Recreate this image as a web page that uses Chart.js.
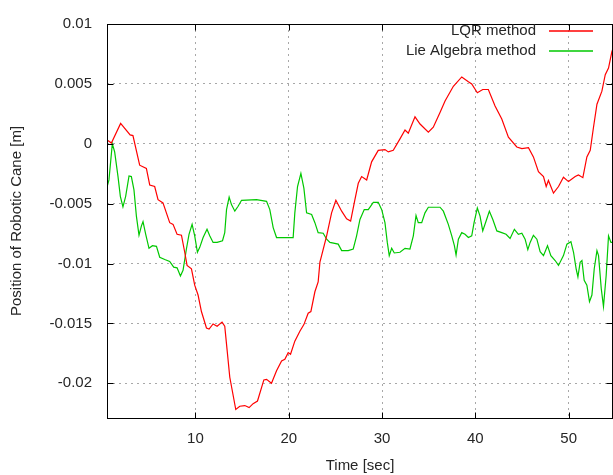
<!DOCTYPE html>
<html>
<head>
<meta charset="utf-8">
<script src="https://cdn.jsdelivr.net/npm/chart.js@4"></script>
<style>
  html, body { margin: 0; padding: 0; background: #fff; }
  #wrap { width: 613px; height: 475px; position: relative; }
</style>
</head>
<body>
<div id="wrap"><canvas id="caneChart" width="613" height="475"></canvas></div>
<script>
const SERIES_LABELS = ["LQR method", "Lie Algebra method"];
const SERIES_COLORS = ["#ff0000", "#00c800"];
const X_TICKS = [10, 20, 30, 40, 50];
const Y_TICKS = [-0.02, -0.015, -0.01, -0.005, 0, 0.005, 0.01];

// LQR method: time [sec] / position [m]
const lqrTime = [0.62, 0.99, 1.98, 3.0, 3.3, 4.02, 4.74, 5.1, 5.63, 5.99, 6.52, 7.24, 7.6, 8.03, 8.5, 8.85, 9.1, 9.57, 9.92, 10.28,
  10.64, 11.18, 11.46, 11.89, 12.32, 12.85, 13.14, 13.68, 14.32, 14.75, 15.29, 15.75, 16.18, 16.65, 17.33, 17.62, 18.15, 18.69, 19.23, 19.58,
  19.94, 20.19, 20.65, 21.19, 21.62, 22.08, 22.37, 22.8, 23.15, 23.34, 23.52, 24.06, 24.59, 25.05, 25.67, 26.2, 26.63, 27.09, 27.45, 27.81,
  28.35, 28.88, 29.59, 30.31, 30.67, 31.2, 31.92, 32.46, 32.81, 33.53, 34.07, 34.96, 35.49, 36.21, 36.75, 37.64, 38.54, 39.25, 39.61, 40.21,
  40.79, 41.39, 42.11, 42.83, 43.54, 44.44, 44.98, 45.69, 46.22, 46.76, 47.3, 47.59, 47.83, 48.09, 48.37, 48.91, 49.44, 49.98, 50.7, 51.05,
  51.52, 51.95, 52.31, 52.66, 53.03, 53.56, 53.92, 54.27, 54.63, 54.77];
const lqrPos = [0.00027, 0.00006, 0.0017, 0.00074, 0.00068, -0.00179, -0.00206, -0.00344, -0.00357, -0.00467, -0.00494, -0.00659, -0.00673, -0.00756, -0.00764, -0.00906, -0.01016, -0.01044, -0.01181, -0.01263,
  -0.01401, -0.01538, -0.01547, -0.01505, -0.01524, -0.01489, -0.01524, -0.0195, -0.02219, -0.02192, -0.02186, -0.02203, -0.0217, -0.02148, -0.01972, -0.01967, -0.02, -0.01895, -0.01813, -0.01799,
  -0.01744, -0.01758, -0.01648, -0.01566, -0.0151, -0.01415, -0.01401, -0.01236, -0.01154, -0.00989, -0.00934, -0.00769, -0.00577, -0.00472, -0.00563, -0.00626, -0.00645, -0.00467, -0.0033, -0.00274,
  -0.00302, -0.00151, -0.00055, -0.00049, -0.00068, -0.00055, 0.00041, 0.00115, 0.00088, 0.00225, 0.00165, 0.00096, 0.00138, 0.00261, 0.00357, 0.0048, 0.00558, 0.00517, 0.005, 0.00426,
  0.00453, 0.00453, 0.00316, 0.00206, 0.00055, -0.00027, -0.00041, -0.00033, -0.0011, -0.00233, -0.00274, -0.00357, -0.00307, -0.00357, -0.00412, -0.00357, -0.0028, -0.00316, -0.00274, -0.00261,
  -0.00283, -0.0011, -0.00055, 0.00138, 0.0033, 0.00439, 0.00577, 0.00632, 0.00769, 0.008];

// Lie Algebra method: time [sec] / position [m]
const lieTime = [0.52, 0.54, 0.73, 1.09, 1.34, 1.7, 1.95, 2.23, 2.52, 2.88, 3.13, 3.41, 3.67, 3.95, 4.21, 4.38, 4.67, 5.02, 5.39, 5.82,
  6.17, 6.71, 7.24, 7.67, 8.03, 8.39, 8.67, 9.03, 9.31, 9.64, 9.92, 10.21, 10.46, 10.82, 11.24, 11.53, 11.89, 12.32, 12.9, 13.14,
  13.33, 13.61, 13.86, 14.22, 14.57, 14.94, 16.54, 17.62, 17.97, 18.33, 18.69, 20.47, 20.65, 20.94, 21.3, 21.62, 21.91, 22.45, 22.8, 23.15,
  23.69, 24.06, 24.41, 25.3, 25.67, 26.37, 26.91, 27.27, 27.63, 28.09, 28.52, 29.06, 29.59, 29.96, 30.31, 30.56, 30.77, 31.03, 31.31, 31.92,
  32.46, 32.99, 33.35, 33.64, 33.88, 34.25, 34.6, 34.96, 36.21, 36.57, 37.1, 37.47, 37.75, 37.93, 38.18, 38.54, 38.89, 39.25, 39.61, 39.86,
  40.21, 40.5, 40.79, 41.15, 41.5, 41.87, 42.3, 42.83, 43.29, 43.72, 44.18, 44.61, 44.98, 45.33, 45.62, 45.87, 46.22, 46.59, 46.94, 47.3,
  47.73, 48.09, 48.55, 48.91, 49.44, 49.81, 50.24, 50.52, 50.8, 50.99, 51.23, 51.42, 51.66, 51.95, 52.23, 52.49, 52.74, 53.03, 53.2, 53.49,
  53.73, 54.02, 54.27, 54.53, 54.74];
const liePos = [0.00192, -0.00357, -0.00302, 0, -0.00068, -0.00274, -0.00439, -0.00527, -0.00439, -0.00269, -0.00274, -0.00385, -0.00604, -0.00764, -0.00686, -0.00651, -0.00756, -0.00873, -0.00851, -0.00857,
  -0.00948, -0.00967, -0.00983, -0.0103, -0.01036, -0.01104, -0.01057, -0.00879, -0.00756, -0.00673, -0.00769, -0.00906, -0.00865, -0.00783, -0.00714, -0.00769, -0.00824, -0.00824, -0.0081, -0.00742,
  -0.0055, -0.00445, -0.00508, -0.00563, -0.00522, -0.00472, -0.00467, -0.00481, -0.0055, -0.007, -0.00783, -0.00783, -0.00577, -0.00357, -0.00247, -0.00371, -0.00577, -0.00591, -0.00659, -0.00742,
  -0.00747, -0.00797, -0.00824, -0.00838, -0.00892, -0.00892, -0.00879, -0.00769, -0.00632, -0.0055, -0.0055, -0.00489, -0.00489, -0.0055, -0.00659, -0.00824, -0.00934, -0.00873, -0.00912, -0.00906,
  -0.00873, -0.00879, -0.00769, -0.00599, -0.00659, -0.00659, -0.00577, -0.0053, -0.0053, -0.00563, -0.00673, -0.00769, -0.00851, -0.00929, -0.00797, -0.00742, -0.00756, -0.00783, -0.00769, -0.00659,
  -0.00536, -0.00604, -0.00728, -0.00645, -0.00563, -0.00632, -0.00728, -0.00742, -0.00756, -0.00791, -0.00714, -0.00756, -0.00747, -0.00797, -0.00884, -0.00824, -0.00764, -0.00797, -0.00901, -0.00934,
  -0.00851, -0.00934, -0.00975, -0.01016, -0.00934, -0.00838, -0.00818, -0.00906, -0.01044, -0.01112, -0.00989, -0.00975, -0.0114, -0.01181, -0.01318, -0.01263, -0.01044, -0.00892, -0.00934, -0.01209,
  -0.0136, -0.01098, -0.00769, -0.00824, -0.00824];

const FONT = "'Liberation Sans', Arial, sans-serif";
const TEXT_COLOR = "#262626";

/* ===== gnuplot-style frame, inward ticks and legend ===== */
const gnuplotFrame = {
  id: "gnuplotFrame",
  afterDatasetsDraw(chart) {
    const { ctx, chartArea: a, scales } = chart;
    const L = Math.round(a.left) + 0.5, R = Math.round(a.right) - 0.5;
    const T = Math.round(a.top) + 0.5, B = Math.round(a.bottom) + 0.5;
    ctx.save();
    ctx.strokeStyle = "#000";
    ctx.lineWidth = 1;
    ctx.setLineDash([]);
    ctx.strokeRect(L, T, R - L, B - T);

    ctx.beginPath();
    X_TICKS.forEach(v => {
      const x = Math.round(scales.x.getPixelForValue(v)) + 0.5;
      ctx.moveTo(x, B); ctx.lineTo(x, B - 6);
      ctx.moveTo(x, T); ctx.lineTo(x, T + 6);
    });
    Y_TICKS.forEach(v => {
      const y = Math.round(scales.y.getPixelForValue(v)) + 0.5;
      ctx.moveTo(L, y); ctx.lineTo(L + 6, y);
      ctx.moveTo(R, y); ctx.lineTo(R - 6, y);
    });
    ctx.stroke();

    // legend, top right inside the plot
    ctx.font = "15px " + FONT;
    ctx.textAlign = "right";
    ctx.textBaseline = "middle";
    ctx.lineWidth = 1.5;
    SERIES_LABELS.forEach((label, i) => {
      const y = 31 + i * 19.5;
      ctx.fillStyle = TEXT_COLOR;
      ctx.fillText(label, 536, y);
      ctx.strokeStyle = SERIES_COLORS[i];
      ctx.beginPath();
      ctx.moveTo(549, Math.round(y));
      ctx.lineTo(593, Math.round(y));
      ctx.stroke();
    });
    ctx.restore();
  }
};

function toPoints(xs, ys) {
  return xs.map((x, i) => ({ x, y: ys[i] }));
}

new Chart(document.getElementById("caneChart"), {
  type: "line",
  data: {
    datasets: [{
      label: SERIES_LABELS[0],
      data: toPoints(lqrTime, lqrPos),
      borderColor: SERIES_COLORS[0],
      borderWidth: 1.2,
      pointRadius: 0,
      tension: 0
    }, {
      label: SERIES_LABELS[1],
      data: toPoints(lieTime, liePos),
      borderColor: SERIES_COLORS[1],
      borderWidth: 1.2,
      pointRadius: 0,
      tension: 0
    }]
  },
  options: {
    responsive: false,
    animation: false,
    devicePixelRatio: 1,
    layout: { padding: { top: 18, right: 0, left: 0, bottom: 0 } },
    plugins: {
      legend: { display: false },
      tooltip: { enabled: false }
    },
    scales: {
      x: {
        type: "linear",
        min: 0.52,
        max: 54.75,
        afterBuildTicks: s => { s.ticks = X_TICKS.map(v => ({ value: v })); },
        afterFit: s => { s.height = 57; },
        grid: { color: "#a8a8a8", lineWidth: 1, drawTicks: false },
        border: { display: false, dash: [2, 4] },
        ticks: { color: TEXT_COLOR, font: { family: FONT, size: 15 }, padding: 12, maxRotation: 0 },
        title: { display: true, text: "Time [sec]", color: TEXT_COLOR, font: { family: FONT, size: 15 }, padding: { top: 0, bottom: 0 } }
      },
      y: {
        min: -0.0229,
        max: 0.01,
        afterBuildTicks: s => { s.ticks = Y_TICKS.map(v => ({ value: v })); },
        afterFit: s => { s.width = 107; },
        grid: { color: "#a8a8a8", lineWidth: 1, drawTicks: false },
        border: { display: false, dash: [2, 4] },
        ticks: {
          color: TEXT_COLOR,
          font: { family: FONT, size: 15 },
          padding: 15,
          callback: v => String(parseFloat(v.toFixed(4)))
        },
        title: { display: true, text: "Position of Robotic Cane [m]", color: TEXT_COLOR, font: { family: FONT, size: 15 }, padding: { top: 8, bottom: 0 } }
      }
    }
  },
  plugins: [gnuplotFrame]
});
</script>
</body>
</html>
